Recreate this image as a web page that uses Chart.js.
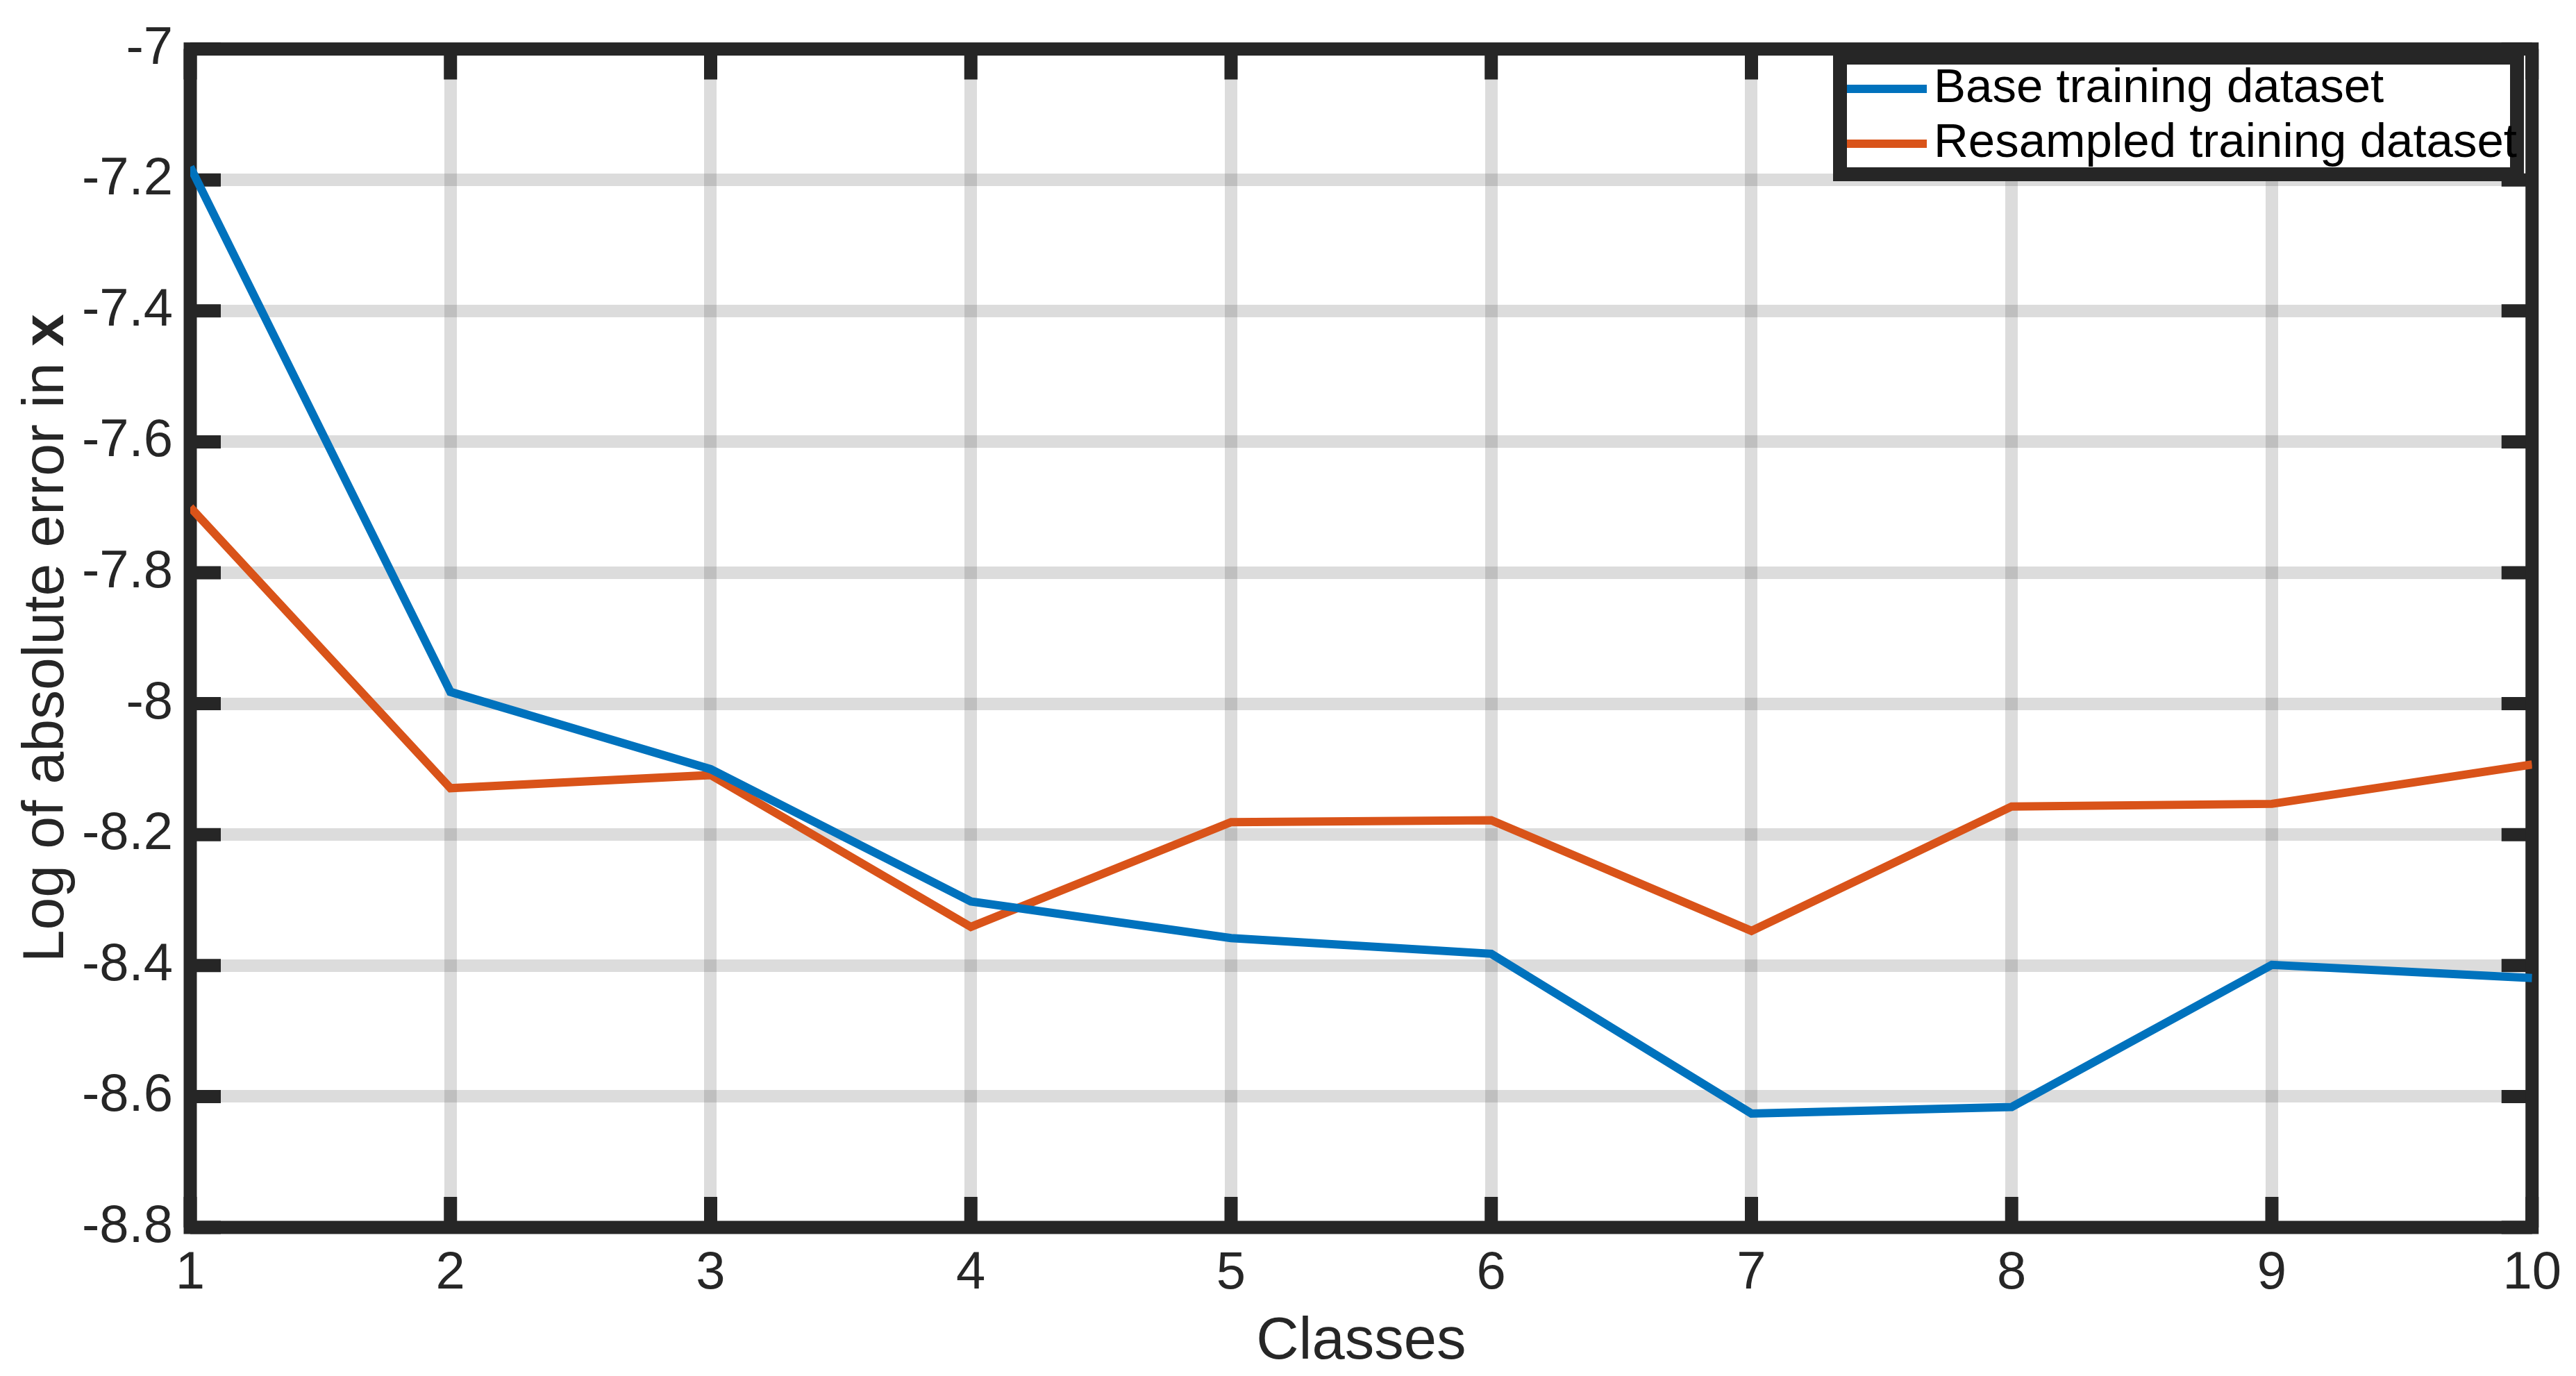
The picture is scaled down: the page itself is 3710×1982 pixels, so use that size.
<!DOCTYPE html>
<html>
<head>
<meta charset="utf-8">
<title>Log of absolute error per class</title>
<script src="https://cdn.jsdelivr.net/npm/chart.js@4.4.1/dist/chart.umd.min.js"></script>
<style>
    html, body { margin: 0; padding: 0; background: #ffffff; }
    #chart { display: block; }
</style>
</head>
<body>
<canvas id="chart" width="3710" height="1982"></canvas>
<script>
// -----------------------------------------------------------------------
// Data
// -----------------------------------------------------------------------
const classes = [1, 2, 3, 4, 5, 6, 7, 8, 9, 10];
const baseError = [-7.18, -7.982, -8.10, -8.302, -8.358, -8.382, -8.626, -8.616, -8.399, -8.419];
const resampledError = [-7.70, -8.129, -8.109, -8.341, -8.181, -8.178, -8.347, -8.157, -8.153, -8.093];
const yTickValues = [-7, -7.2, -7.4, -7.6, -7.8, -8, -8.2, -8.4, -8.6, -8.8];
const yTickLabels = ["-7", "-7.2", "-7.4", "-7.6", "-7.8", "-8", "-8.2", "-8.4", "-8.6", "-8.8"];
const seriesNames = ["Base training dataset", "Resampled training dataset"];

// -----------------------------------------------------------------------
// Styles
// -----------------------------------------------------------------------
const FONT = "'Liberation Sans', Arial, Helvetica, sans-serif";
const AXIS_COLOR = "#262626";
const GRID_COLOR = "rgba(38,38,38,0.16)";
const BLUE = "#0072BD";
const RED = "#D95319";
const BOX_WIDTH = 19;
const TICK_LEN = 44;

function toPoints(values) {
    return values.map(function (v, i) { return { x: classes[i], y: v }; });
}

// box, inner tick marks, legend and axis titles (MATLAB look)
const matlabFrame = {
    id: "matlabFrame",
    beforeDatasetsDraw(chart) {
        const ctx = chart.ctx;
        const a = chart.chartArea;
        const xs = chart.scales.x;
        const ys = chart.scales.y;
        ctx.save();
        ctx.strokeStyle = AXIS_COLOR;
        ctx.lineWidth = BOX_WIDTH;
        ctx.lineCap = "butt";
        ctx.lineJoin = "miter";
        ctx.beginPath();
        classes.forEach(function (v) {
            const px = xs.getPixelForValue(v);
            ctx.moveTo(px, a.bottom);
            ctx.lineTo(px, a.bottom - TICK_LEN);
            ctx.moveTo(px, a.top);
            ctx.lineTo(px, a.top + TICK_LEN);
        });
        yTickValues.forEach(function (v) {
            const py = ys.getPixelForValue(v);
            ctx.moveTo(a.left, py);
            ctx.lineTo(a.left + TICK_LEN, py);
            ctx.moveTo(a.right, py);
            ctx.lineTo(a.right - TICK_LEN, py);
        });
        ctx.stroke();
        ctx.strokeRect(a.left, a.top, a.right - a.left, a.bottom - a.top);
        ctx.restore();
    },
    afterDraw(chart) {
        const ctx = chart.ctx;
        const a = chart.chartArea;
        ctx.save();

        // x title
        ctx.fillStyle = AXIS_COLOR;
        ctx.font = "85px " + FONT;
        ctx.textAlign = "center";
        ctx.textBaseline = "alphabetic";
        ctx.fillText("Classes", (a.left + a.right) / 2, 1957);

        // y title with bold x
        const part1 = "Log of absolute error in ";
        const part2 = "x";
        ctx.font = "84px " + FONT;
        const w1 = ctx.measureText(part1).width;
        ctx.font = "bold 84px " + FONT;
        const w2 = ctx.measureText(part2).width;
        ctx.translate(91, (a.top + a.bottom) / 2);
        ctx.rotate(-Math.PI / 2);
        ctx.textAlign = "left";
        ctx.font = "84px " + FONT;
        ctx.fillText(part1, -(w1 + w2) / 2, 0);
        ctx.font = "bold 84px " + FONT;
        ctx.fillText(part2, -(w1 + w2) / 2 + w1, 0);
        ctx.setTransform(1, 0, 0, 1, 0, 0);

        // legend
        const lx = 2650, ly = 83, lw = 975, lh = 168;
        ctx.fillStyle = "#ffffff";
        ctx.fillRect(lx, ly, lw, lh);
        ctx.strokeStyle = AXIS_COLOR;
        ctx.lineWidth = 20;
        ctx.strokeRect(lx, ly, lw, lh);
        const rows = [128, 207];
        chart.data.datasets.forEach(function (ds, i) {
            ctx.strokeStyle = ds.borderColor;
            ctx.lineWidth = 12;
            ctx.lineCap = "butt";
            ctx.beginPath();
            ctx.moveTo(2660, rows[i]);
            ctx.lineTo(2775, rows[i]);
            ctx.stroke();
            ctx.fillStyle = "#000000";
            ctx.font = "69px " + FONT;
            ctx.textAlign = "left";
            ctx.textBaseline = "middle";
            ctx.fillText(ds.label, 2785, rows[i]);
        });
        ctx.restore();
    }
};

const ctx = document.getElementById("chart").getContext("2d");
const chart = new Chart(ctx, {
    type: "line",
    data: {
        datasets: [
            {
                label: seriesNames[0],
                data: toPoints(baseError),
                borderColor: BLUE,
                borderWidth: 12,
                pointRadius: 0,
                tension: 0,
                fill: false,
            },
            {
                label: seriesNames[1],
                data: toPoints(resampledError),
                borderColor: RED,
                borderWidth: 12,
                pointRadius: 0,
                tension: 0,
                fill: false,
            },
        ],
    },
    options: {
        responsive: false,
        animation: false,
        devicePixelRatio: 1,
        layout: {
            padding: { left: 0, top: 53, right: 54, bottom: 0 },
        },
        plugins: {
            legend: { display: false },
            tooltip: { enabled: false },
        },
        scales: {
            x: {
                type: "linear",
                min: 1,
                max: 10,
                afterBuildTicks: function (scale) {
                    scale.ticks = classes.map(function (v) { return { value: v }; });
                },
                afterFit: function (scale) { scale.height = 214; },
                grid: {
                    color: GRID_COLOR,
                    lineWidth: 18,
                    drawTicks: false,
                },
                border: { display: false },
                ticks: {
                    color: AXIS_COLOR,
                    font: { family: FONT, size: 76 },
                    padding: 21,
                    maxRotation: 0,
                    autoSkip: false,
                    callback: function (v) { return String(v); },
                },
            },
            y: {
                type: "linear",
                min: -8.8,
                max: -7,
                afterBuildTicks: function (scale) {
                    scale.ticks = yTickValues.map(function (v) { return { value: v }; });
                },
                afterFit: function (scale) { scale.width = 274; },
                grid: {
                    color: GRID_COLOR,
                    lineWidth: 18,
                    drawTicks: false,
                },
                border: { display: false },
                ticks: {
                    color: AXIS_COLOR,
                    font: { family: FONT, size: 76 },
                    padding: 25,
                    autoSkip: false,
                    callback: function (v, i) { return yTickLabels[i]; },
                },
            },
        },
    },
    plugins: [matlabFrame],
});
</script>
</body>
</html>
